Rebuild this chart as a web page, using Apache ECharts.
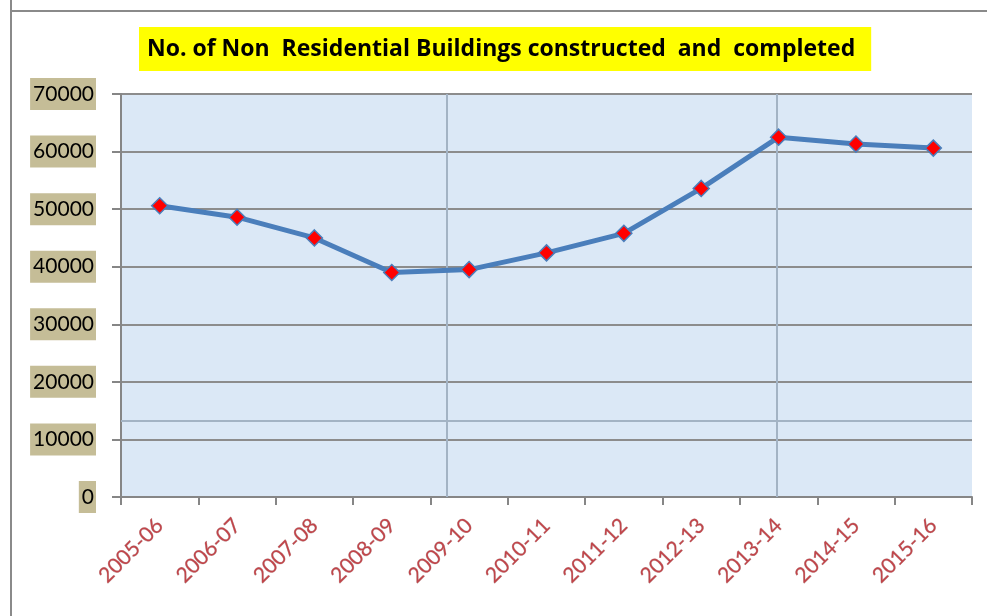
<!DOCTYPE html>
<html>
<head>
<meta charset="utf-8">
<script src="https://cdn.jsdelivr.net/npm/echarts@6/dist/echarts.min.js"></script>
<style>
  html, body { margin: 0; padding: 0; background: #fff; }
  #chart { width: 987px; height: 616px; }
</style>
</head>
<body>
<div id="chart"></div>
<script>
const years = ['2005-06', '2006-07', '2007-08', '2008-09', '2009-10', '2010-11',
  '2011-12', '2012-13', '2013-14', '2014-15', '2015-16'];
const buildings = [50600, 48600, 45000, 39000, 39500, 42400, 45800, 53600, 62500, 61300, 60600];
const yTicks = [0, 10000, 20000, 30000, 40000, 50000, 60000, 70000];

const chartDom = document.getElementById('chart');
const myChart = echarts.init(chartDom);

const option = {
  animation: false,
  title: {
    text: 'No. of Non  Residential Buildings constructed  and  completed',
    left: 139,
    top: 27,
    padding: [11, 16, 10, 8],
    backgroundColor: '#ffff00',
    textStyle: {
      fontFamily: 'Open Sans',
      fontWeight: 'bold',
      fontSize: 23,
      color: '#000'
    }
  },
  graphic: [
    { type: 'line', shape: { x1: 11, y1: 0, x2: 11, y2: 616 }, style: { stroke: '#8a8a8a', lineWidth: 2 } },
    { type: 'line', shape: { x1: 11, y1: 11, x2: 987, y2: 11 }, style: { stroke: '#8a8a8a', lineWidth: 2 } },
    // seams in the textured fill
    { type: 'line', z: 1, shape: { x1: 447, y1: 94, x2: 447, y2: 497 }, style: { stroke: '#a3b3c4', lineWidth: 2 } },
    { type: 'line', z: 1, shape: { x1: 777, y1: 94, x2: 777, y2: 497 }, style: { stroke: '#a3b3c4', lineWidth: 2 } },
    { type: 'line', z: 1, shape: { x1: 121, y1: 421, x2: 972, y2: 421 }, style: { stroke: '#a3b3c4', lineWidth: 2 } }
  ],
  grid: {
    left: 121,
    right: 15,
    top: 94,
    bottom: 119,
    show: true,
    backgroundColor: '#dbe8f6',
    borderWidth: 0
  },
  xAxis: {
    type: 'category',
    data: years,
    boundaryGap: true,
    axisLine: { lineStyle: { color: '#868686', width: 2 } },
    axisTick: { show: true, length: 8, lineStyle: { color: '#868686', width: 2 } },
    axisLabel: {
      rotate: 45,
      margin: 25,
      fontFamily: 'Lato',
      fontSize: 21,
      color: '#c0454a',
      textBorderColor: 'rgba(90,40,40,0.35)',
      textBorderWidth: 0.6
    }
  },
  yAxis: {
    type: 'value',
    min: yTicks[0],
    max: yTicks[yTicks.length - 1],
    interval: 10000,
    axisLine: { show: true, lineStyle: { color: '#868686', width: 2 } },
    axisTick: { show: true, length: 9, lineStyle: { color: '#868686', width: 2 } },
    splitLine: { lineStyle: { color: '#8c8c8c', width: 2 } },
    axisLabel: {
      margin: 25,
      fontFamily: 'Lato',
      fontSize: 21,
      color: '#000',
      backgroundColor: '#c5bd97',
      padding: [6, 2, 5, 3],
      formatter: v => String(v)
    }
  },
  series: [
    {
      type: 'line',
      data: buildings,
      z: 3,
      lineStyle: { color: '#4a7ebb', width: 5 },
      symbol: 'diamond',
      symbolSize: 16,
      itemStyle: { color: '#ff0000', borderColor: '#4a7ebb', borderWidth: 1.5 }
    }
  ]
};

myChart.setOption(option);
window.addEventListener('resize', () => myChart.resize());
</script>
</body>
</html>
